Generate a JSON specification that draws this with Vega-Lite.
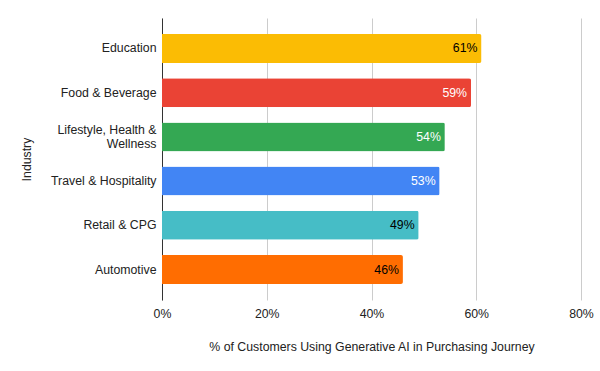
{
  "$schema": "https://vega.github.io/schema/vega-lite/v6.json",
  "width": 419,
  "height": 282,
  "autosize": {"type": "none"},
  "padding": {"left": 162, "top": 18, "right": 19, "bottom": 71},
  "background": "white",
  "config": {
    "font": "Liberation Sans",
    "view": {"stroke": null}
  },
  "data": {
    "values": [
      {"industry": "Education", "value": 0.61, "color": "#FBBC04", "labelColor": "#000000"},
      {"industry": "Food & Beverage", "value": 0.59, "color": "#EA4335", "labelColor": "#FFFFFF"},
      {"industry": "Lifestyle, Health & Wellness", "value": 0.54, "color": "#34A853", "labelColor": "#FFFFFF"},
      {"industry": "Travel & Hospitality", "value": 0.53, "color": "#4285F4", "labelColor": "#FFFFFF"},
      {"industry": "Retail & CPG", "value": 0.49, "color": "#46BDC6", "labelColor": "#000000"},
      {"industry": "Automotive", "value": 0.46, "color": "#FF6D01", "labelColor": "#000000"}
    ]
  },
  "encoding": {
    "y": {
      "field": "industry",
      "type": "nominal",
      "sort": null,
      "scale": {"paddingInner": 0.344, "paddingOuter": 0.362},
      "axis": {
        "title": "Industry",
        "titleFont": "Liberation Sans",
        "titleFontSize": 12.3,
        "titleFontWeight": "normal",
        "titleColor": "#222222",
        "titlePadding": 17,
        "labelFont": "Liberation Sans",
        "labelFontSize": 12.3,
        "labelColor": "#222222",
        "labelPadding": 6,
        "labelLineHeight": 14,
        "labelOffset": {"condition": {"test": "datum.value == 'Lifestyle, Health & Wellness'", "value": -7}, "value": 0},
        "labelExpr": "datum.label == 'Lifestyle, Health & Wellness' ? ['Lifestyle, Health &', 'Wellness'] : datum.label",
        "ticks": false,
        "domain": true,
        "domainColor": "#333333",
        "domainWidth": 1
      }
    },
    "x": {
      "field": "value",
      "type": "quantitative",
      "scale": {"domain": [0, 0.8], "nice": false},
      "axis": {
        "title": "% of Customers Using Generative AI in Purchasing Journey",
        "titleFont": "Liberation Sans",
        "titleFontSize": 12.3,
        "titleFontWeight": "normal",
        "titleColor": "#222222",
        "titlePadding": 21,
        "format": ".0%",
        "values": [0, 0.2, 0.4, 0.6, 0.8],
        "labelFlush": false,
        "labelFont": "Liberation Sans",
        "labelFontSize": 12.3,
        "labelColor": "#222222",
        "labelPadding": 7,
        "ticks": false,
        "domain": false,
        "grid": true,
        "gridColor": "#CCCCCC",
        "gridWidth": 1
      }
    }
  },
  "layer": [
    {
      "mark": {"type": "bar", "cornerRadiusEnd": 2},
      "encoding": {
        "color": {"field": "color", "type": "nominal", "scale": null, "legend": null}
      }
    },
    {
      "mark": {"type": "text", "align": "right", "baseline": "middle", "dx": -4, "font": "Liberation Sans", "fontSize": 12.3},
      "encoding": {
        "text": {"field": "value", "type": "quantitative", "format": ".0%"},
        "color": {"field": "labelColor", "type": "nominal", "scale": null, "legend": null}
      }
    }
  ]
}
